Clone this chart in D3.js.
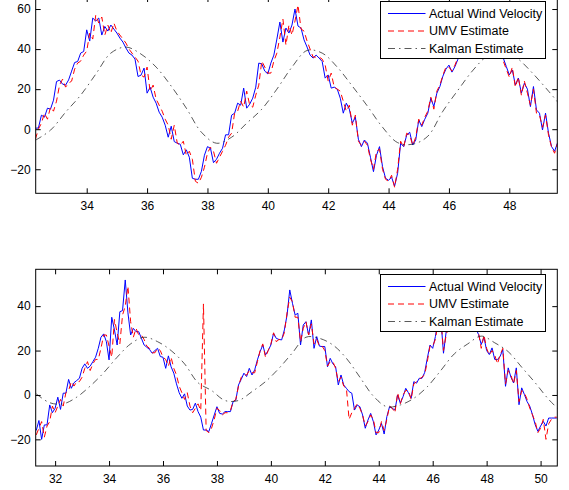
<!DOCTYPE html>
<html>
<head>
<meta charset="utf-8">
<script src="https://cdnjs.cloudflare.com/ajax/libs/d3/7.8.5/d3.min.js"></script>
<style>
  body { margin: 0; background: #fff; }
  svg { display: block; font-family: "Liberation Sans", Arial, Helvetica, sans-serif; }
</style>
</head>
<body>
<svg id="chart" width="569" height="490"></svg>
<script>
// samples are taken every 0.1 s starting at the given time
const topStart = 32.3, sampleStep = 0.1;
const topActual = [0.5,0.6,7,6,10.5,10,14.5,23.8,24.5,22.5,
  22,24.6,29,33.3,33.8,38,38.8,49.6,44,55.5,
  54,55.5,47,51.3,49,52,50,48,45.5,43.5,
  40.5,38,37,35,26.3,27,30.5,18,21,16,
  13,8.5,6,2,-4,1.5,-6.2,-7,-7.5,-12.8,
  -10.3,-14,-24.5,-25,-25,-21,-13,-8.7,-9.5,-16.7,
  -15,-12,-9.5,-2.8,-2.8,7,8,13,12,20.5,
  10.5,12.5,15.5,21,33,32.6,29,27.6,33,37,
  45,53.5,43.5,50.5,48,52,60,51.5,50.5,44.6,
  41,37,35.5,37,35.5,33.8,25.5,27.1,20.5,21,
  20,15.5,8,13,10,3,6,-5,-8.7,-5.4,
  -7,-14,-21.2,-13,-8.7,-18.7,-24.5,-25.5,-24,-28.4,
  -22,-7,-8.7,-3,-1.5,-7.9,-5.4,4.6,1.3,5,
  8,15.5,11.3,18,21.3,26.5,30,32,28.5,31.3,
  35,40,42,47,45,50,52,48,53,55,
  50,52,48,44,40,35.5,31.3,27.1,29.6,22.1,
  25.5,18,23,20,11.3,21.3,9.6,8,-0.4,8,
  -2,-8.7,-11,-6.7];
const topUmv = [-5,0,3,8,5,11,9,14,22,25,
  21,23,24,30,33,34,37,39,48,45,
  57,53,56,47,52,48,53,49,47,45,
  43,40,38,36,34,27,26,31,19,22,
  15,12,9,5,2,-5,2,-7,-8,-6,
  -13,-11,-15,-26,-27,-24,-19,-12,-9,-11,
  -17,-14,-11,-8,-4,-2,8,9,14,11,
  19,12,11,17,22,34,31,28,28,34,
  38,46,55,42,52,47,54,62,50,49,
  44,40,36,36,36,35,32,24,28,21,
  20,19,14,9,12,2,7,-6,-8,-6,
  -8,-15,-20,-11,-10,-20,-25,-26,-23,-29,
  -20,-6,-9,-2,-3,-8,-4,5,2,6,
  9,16,10,19,22,27,31,31,29,32,
  36,41,43,46,46,51,51,49,54,54,
  49,51,47,43,38,34,30,26,31,21,
  26,17,24,18,12,20,8,7,1,7,
  -3,-9,-12,-7];
// kalman estimate read every 0.5 s
const kalmanStep = 0.5;
const topKalman = [-5.5,-0.5,8.5,17,27.5,38,41,37.5,31,21.5,
  10.5,-1.5,-7,-4,3,10,20,31,39.3,38,
  31,21.5,11.5,1,-6.7,-7.5,-3.5,9,19.5,29.5,
  37,40,35,27.5,19,10];

const bottomStart = 31.3;
const bottomActual = [-16,-11.5,-20,-13.5,-13.5,-4.5,-8,-6,-1,-6.5,
  0.8,0.8,7,3,5.5,6.5,7.5,12,14,12,
  13,15,17,21,26,27.5,24,15.8,35,29.3,
  22.5,37.5,38,51.8,37,27,30,28.5,28.5,25.5,
  22.5,21.5,20.5,18.8,20,21,17.3,17,12,17.6,
  12.7,9.8,5,1,-1.5,0.5,-5,-6.8,-6.5,-3.7,
  -7.5,-10,-15.8,-15.8,-16.5,-12.8,-9,-5.3,-8.3,-8.6,
  -7.5,-7.5,-7.5,-3,-2.3,4.5,7,9.8,8.3,12,
  9,11.3,15.8,19.5,22.5,18,20,22.5,27.8,25.5,
  25,24.8,29.3,36,47.3,41.3,36,36.8,22.5,31.5,
  33,27,33.8,21,26.3,22,21.8,21.8,12.7,16.5,
  14,12.7,4.5,9,4.5,3,1.5,0.8,-6.8,-4.5,
  -5.3,-9,-15,-11.3,-8.3,-12,-18,-15.8,-12.8,-17.6,
  -9.8,-5.3,-6,-6.8,0,-3.7,-0.8,3,1,-1.5,
  6,5.3,7.5,7.5,10,16.5,22.5,21,26.3,33.8,
  34.5,18.8,28.5,32,35,31,36,33,38,34,
  36,32,35,30,27.2,22.7,26,20,18.2,21.2,
  16,15.9,17.4,20.4,3.9,12.2,8,5.4,12.2,-4.4,
  3.2,0.2,-3,-5.1,-8.9,-13.4,-16.4,-14,-11.9,-14,
  -10.4,-10.4,-10.4,-10.4];
const bottomUmv = [-18,-15,-12,-19,-14,-12,-5,-8,-5,-2,
  -5,1,2,6,4,6,6,8,12,15,
  11,14,16,16,21,27,27,22,17,34,
  28,23,36,40,49,33,26,30,27,27,
  25,22,21,19,19,21,20,17,16,13,
  17,12,9,4,1,-2,1,-5,-8,-6,
  -4,-7,41,-16,-17,-15,-11,-6,-7,-9,
  -8,-8,-7,-3,-2,4,8,9,9,11,
  10,10,15,20,23,17,20,23,28,24,
  25,25,28,37,44,42,35,35,24,30,
  33,27,32,23,25,22,22,20,13,15,
  15,12,6,8,4,3,-11,-8,-6,-4,
  -6,-9,-14,-12,-9,-11,-17,-17,-12,-16,
  -11,-5,-6,-8,1,-4,0,2,2,-2,
  5,6,7,8,9,15,22,22,25,33,
  35,20,27,31,34,32,35,34,37,35,
  35,33,34,31,28,21,27,21,18,20,
  18,14,18,21,5,11,9,5,11,-3,
  2,1,-2,-6,-9,-12,-17,-15,-11,-20,
  -13,-11,-10,-10];
const bottomKalman = [0.5,-3.5,-4,-1,4,10,17,23,26,24,
  20,14,5.5,2,-2.5,-2.5,1.5,6,12,19,
  26,25.5,22.5,16.5,8,-0.5,-5.3,-4.5,-1.5,3.7,
  11,18.5,23,26.5,23.5,19.5,12.5,5.5,-2,-8];

const topXTicks = [34, 36, 38, 40, 42, 44, 46, 48];
const topYTicks = [-20, 0, 20, 40, 60];
const bottomXTicks = [32, 34, 36, 38, 40, 42, 44, 46, 48, 50];
const bottomYTicks = [-20, 0, 20, 40];
const legendLabels = ["Actual Wind Velocity", "UMV Estimate", "Kalman Estimate"];

const svg = d3.select("#chart");

function toPoints(start, step, values) {
  return values.map((v, i) => [start + i * step, v]);
}

function drawPanel(p) {
  const x = d3.scaleLinear().domain(p.xDomain).range([p.left, p.right]);
  const y = d3.scaleLinear().domain(p.yDomain).range([p.bottom, p.top]);
  const g = svg.append("g");

  const clipId = "clip" + p.id;
  g.append("clipPath").attr("id", clipId)
    .append("rect")
    .attr("x", p.left).attr("y", p.top)
    .attr("width", p.right - p.left).attr("height", p.bottom - p.top);

  const line = d3.line().x(d => x(d[0])).y(d => y(d[1]));
  const smooth = d3.line().x(d => x(d[0])).y(d => y(d[1])).curve(d3.curveCatmullRom);

  const plot = g.append("g").attr("clip-path", `url(#${clipId})`);
  plot.append("path")
    .attr("d", line(toPoints(p.start, sampleStep, p.actual)))
    .attr("fill", "none").attr("stroke", "#0000ff").attr("stroke-width", 1);
  plot.append("path")
    .attr("d", line(toPoints(p.start, sampleStep, p.umv)))
    .attr("fill", "none").attr("stroke", "#ff0000").attr("stroke-width", 1)
    .attr("stroke-dasharray", "6,4");
  plot.append("path")
    .attr("d", smooth(toPoints(p.start, kalmanStep, p.kalman)))
    .attr("fill", "none").attr("stroke", "#222").attr("stroke-width", 0.75)
    .attr("stroke-dasharray", "7,4,1.5,4");

  // axes, ticks pointing inward on all four sides
  const axB = g.append("g").attr("transform", `translate(0,${p.bottom})`)
    .call(d3.axisBottom(x).tickValues(p.xTicks).tickSizeInner(-5).tickSizeOuter(0).tickPadding(8));
  const axT = g.append("g").attr("transform", `translate(0,${p.top})`)
    .call(d3.axisTop(x).tickValues(p.xTicks).tickSizeInner(-5).tickSizeOuter(0).tickFormat(""));
  const axL = g.append("g").attr("transform", `translate(${p.left},0)`)
    .call(d3.axisLeft(y).tickValues(p.yTicks).tickSizeInner(-5).tickSizeOuter(0).tickPadding(5));
  const axR = g.append("g").attr("transform", `translate(${p.right},0)`)
    .call(d3.axisRight(y).tickValues(p.yTicks).tickSizeInner(-5).tickSizeOuter(0).tickFormat(""));
  [axB, axT, axL, axR].forEach(a => {
    a.select(".domain").remove();
    a.selectAll("line").attr("stroke", "#000");
    a.selectAll("text").attr("fill", "#000").style("font-size", "12px");
  });

  g.append("rect")
    .attr("x", p.left).attr("y", p.top)
    .attr("width", p.right - p.left).attr("height", p.bottom - p.top)
    .attr("fill", "none").attr("stroke", "#000").attr("stroke-width", 1);

  // legend
  const lg = g.append("g").attr("transform", `translate(${p.legendX},${p.legendY})`);
  lg.append("rect").attr("x", 0).attr("y", 0).attr("width", 165).attr("height", 57)
    .attr("fill", "#fff").attr("stroke", "#000").attr("stroke-width", 1);
  const styles = [
    { color: "#0000ff", dash: null, w: 1 },
    { color: "#ff0000", dash: "6,4", w: 1 },
    { color: "#222", dash: "7,4,1.5,4", w: 0.75 }
  ];
  legendLabels.forEach((label, i) => {
    const yy = [12, 29.5, 47][i];
    lg.append("line").attr("x1", 7.5).attr("x2", 45).attr("y1", yy).attr("y2", yy)
      .attr("stroke", styles[i].color).attr("stroke-width", styles[i].w)
      .attr("stroke-dasharray", styles[i].dash);
    lg.append("text").attr("x", 48.5).attr("y", yy + 4.2)
      .style("font-size", "12.5px").attr("fill", "#000").text(label);
  });
}

drawPanel({
  id: "top", left: 35.7, right: 557.3, top: -3, bottom: 193.3,
  xDomain: [32.31, 49.59], yDomain: [-32, 66],
  xTicks: topXTicks, yTicks: topYTicks,
  start: topStart, actual: topActual, umv: topUmv, kalman: topKalman,
  legendX: 380.5, legendY: 1.5
});

drawPanel({
  id: "bottom", left: 35.7, right: 557.3, top: 269.3, bottom: 466,
  xDomain: [31.28, 50.62], yDomain: [-32, 56.6],
  xTicks: bottomXTicks, yTicks: bottomYTicks,
  start: bottomStart, actual: bottomActual, umv: bottomUmv, kalman: bottomKalman,
  legendX: 380.5, legendY: 274.5
});
</script>
</body>
</html>
